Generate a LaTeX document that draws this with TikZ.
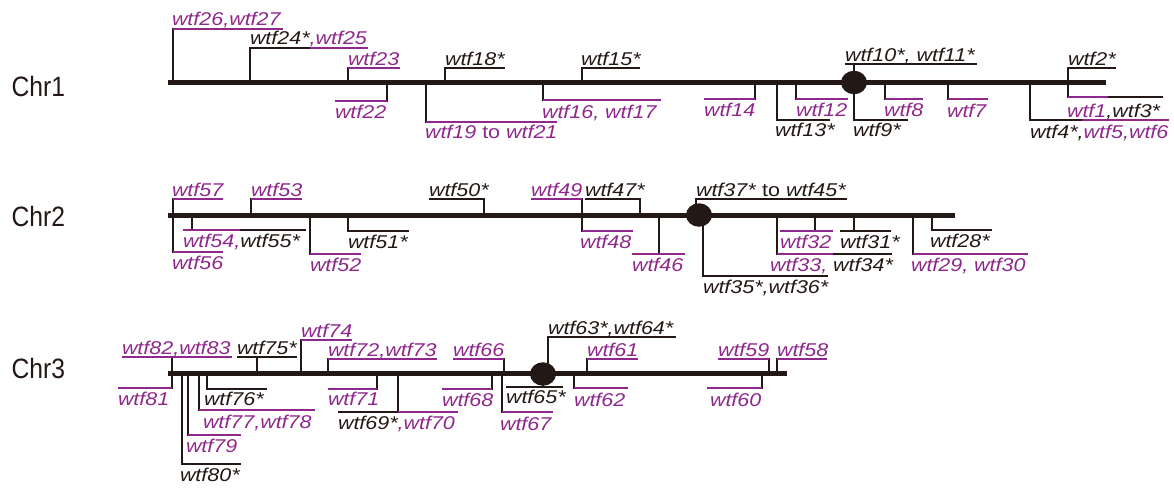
\documentclass[tikz,border=0pt]{standalone}
\usepackage{fontspec}
\setmainfont{Liberation Sans}
\newfontfamily\labfam[FakeStretch=1.16]{Liberation Sans}
\newfontfamily\chrfam[FakeStretch=0.88]{Liberation Sans}
\usetikzlibrary{shapes.geometric}
\definecolor{wpur}{RGB}{142,40,140}
\definecolor{wblk}{RGB}{35,24,21}
\newcommand\Pu[1]{\textcolor{wpur}{#1}}
% name, stem x, chromosome y, leader y, leader x1, leader x2, leader style, text pos, text
\newcommand\wlab[9]{%
  \coordinate (#1a) at (#2,#3);
  \coordinate (#1b) at (#2,#4);
  \draw[stem] (#1a) -- (#1b);
  \draw[#7] (#5,#4) -- (#6,#4);
  \node[lab] (#1) at (#8) {#9};
}
\tikzset{
  stem/.style={line width=1.3pt, draw=wblk, line cap=rect},
  lpur/.style={line width=1.1pt, draw=wpur},
  lblk/.style={line width=1.1pt, draw=wblk},
  lab/.style={inner sep=0pt, outer sep=0pt, anchor=base west, text=wblk,
    font=\labfam\itshape\fontsize{18.5}{20}\selectfont},
  chrlab/.style={inner sep=0pt, anchor=base west, text=wblk,
    font=\chrfam\fontsize{28}{30}\selectfont},
  chrom/.style={line width=5pt, draw=wblk},
  cen/.style={shape=ellipse, fill=wblk, draw=none, inner sep=0pt,
    minimum width=26pt, minimum height=23.5pt}
}
\begin{document}
\begin{tikzpicture}[x=1pt,y=-1pt]
\useasboundingbox (0,0) rectangle (1174,487);
% ---------- Chr1 ----------
\wlab{w26}{173}{82}{29}{173}{283}{lpur}{172,25.8}{\Pu{wtf26,wtf27}}
\wlab{w24}{250}{82}{48}{250}{368}{lpur}{250,45}{wtf24*\Pu{,wtf25}}
\draw[lblk] (250,48) -- (310,48);
\wlab{w23}{348}{82}{68}{348}{400}{lpur}{348,65.5}{\Pu{wtf23}}
\wlab{w18}{445}{82}{68}{445}{505}{lblk}{445,65.5}{wtf18*}
\wlab{w15}{582}{82}{68}{582}{640}{lblk}{581,65.5}{wtf15*}
\wlab{w10}{854}{82}{64}{845}{977}{lblk}{845,61.5}{wtf10*, wtf11*}
\wlab{w2}{1068}{82}{68}{1068}{1116}{lblk}{1068,65.5}{wtf2*}
\wlab{w22}{387}{82}{101}{335}{387}{lpur}{335,118}{\Pu{wtf22}}
\wlab{w19}{426}{82}{122}{426}{557}{lpur}{425,138.5}{\Pu{wtf19 \textup{to} wtf21}}
\wlab{w16}{543}{82}{100}{543}{661}{lpur}{542,118}{\Pu{wtf16, wtf17}}
\wlab{w14}{755}{82}{99}{704}{755}{lpur}{704,116.5}{\Pu{wtf14}}
\wlab{w13}{777}{82}{120}{777}{830}{lblk}{775,136.5}{wtf13*}
\wlab{w12}{796}{82}{99}{796}{848}{lpur}{796,116.5}{\Pu{wtf12}}
\wlab{w9}{854}{82}{120}{854}{908}{lblk}{853,136.5}{wtf9*}
\wlab{w8}{885}{82}{99}{885}{923}{lpur}{884,116.5}{\Pu{wtf8}}
\wlab{w7}{948}{82}{99}{948}{988}{lpur}{947,117}{\Pu{wtf7}}
\wlab{w1}{1068}{82}{97}{1068}{1163}{lblk}{1067,117}{\Pu{wtf1},wtf3*}
\draw[lpur] (1068,97) -- (1108,97);
\wlab{w4}{1030}{82}{120}{1030}{1169}{lpur}{1030,138}{wtf4*,\Pu{wtf5,wtf6}}
\draw[lblk] (1030,120) -- (1082,120);
\coordinate (c1a) at (168,82.5);
\coordinate (c1b) at (1106,82.5);
\draw[chrom] (c1a) -- (c1b);
\node[cen] (cen1) at (854,82.5) {};
\node[chrlab] (chr1) at (11.5,96) {Chr1};
% ---------- Chr2 ----------
\wlab{w57}{173}{215}{199}{173}{223}{lpur}{172,196.5}{\Pu{wtf57}}
\wlab{w53}{251}{215}{199}{251}{302}{lpur}{251,196.5}{\Pu{wtf53}}
\wlab{w50}{484}{215}{199}{429}{484}{lblk}{429,196.5}{wtf50*}
\wlab{w49}{582}{215}{199}{531}{582}{lpur}{531,196.5}{\Pu{wtf49}}
\wlab{w47}{640}{215}{199}{585}{640}{lblk}{585,196.5}{wtf47*}
\wlab{w37}{696}{215}{199}{696}{847}{lblk}{696,196.5}{wtf37* \textup{to} wtf45*}
\wlab{w54}{192}{215}{230}{183}{306}{lblk}{183,247.3}{\Pu{wtf54,}wtf55*}
\draw[lpur] (183,230) -- (240,230);
\wlab{w56}{173}{215}{252}{173}{223}{lpur}{172,269.3}{\Pu{wtf56}}
\wlab{w52}{310}{215}{254}{310}{361}{lpur}{310,271.5}{\Pu{wtf52}}
\wlab{w51}{348}{215}{231}{348}{409}{lblk}{348,248.3}{wtf51*}
\wlab{w48}{582}{215}{231}{582}{633}{lpur}{580,248.3}{\Pu{wtf48}}
\wlab{w46}{659}{215}{254}{632}{685}{lpur}{632,271}{\Pu{wtf46}}
\wlab{w35}{703}{215}{276}{703}{828}{lblk}{703,293.3}{wtf35*,wtf36*}
\wlab{w33}{777}{215}{254}{777}{892}{lblk}{770,271.7}{\Pu{wtf33, }wtf34*}
\draw[lpur] (777,254) -- (833,254);
\wlab{w32}{815}{215}{231}{780}{833}{lpur}{780,248.3}{\Pu{wtf32}}
\wlab{w31}{854}{215}{231}{840}{891}{lblk}{840,248.3}{wtf31*}
\wlab{w29}{913}{215}{254}{913}{1028}{lpur}{911,271}{\Pu{wtf29, wtf30}}
\wlab{w28}{932}{215}{230}{932}{992}{lblk}{930,247.3}{wtf28*}
\coordinate (c2a) at (168,215);
\coordinate (c2b) at (955,215);
\draw[chrom] (c2a) -- (c2b);
\node[cen] (cen2) at (699,215) {};
\node[chrlab] (chr2) at (11.5,226.7) {Chr2};
% ---------- Chr3 ----------
\wlab{w82}{172}{373}{357}{122}{232}{lpur}{122,354.3}{\Pu{wtf82,wtf83}}
\wlab{w75}{257}{373}{357}{237}{297}{lblk}{237,354.3}{wtf75*}
\wlab{w74}{301}{373}{340}{301}{352}{lpur}{301,337.3}{\Pu{wtf74}}
\wlab{w72}{328}{373}{359}{328}{437}{lpur}{328,356}{\Pu{wtf72,wtf73}}
\wlab{w66}{504}{373}{359}{453}{504}{lpur}{453,356}{\Pu{wtf66}}
\wlab{w63}{548}{373}{337}{548}{676}{lblk}{548,334.3}{wtf63*,wtf64*}
\wlab{w61}{587}{373}{359}{587}{638}{lpur}{587,356}{\Pu{wtf61}}
\wlab{w59}{769}{373}{359}{718}{769}{lpur}{718,356}{\Pu{wtf59}}
\wlab{w58}{777}{373}{359}{777}{827}{lpur}{777,356}{\Pu{wtf58}}
\wlab{w81}{172}{373}{388}{118}{172}{lpur}{118,405}{\Pu{wtf81}}
\wlab{w80}{182}{373}{464}{182}{241}{lblk}{180,481.5}{wtf80*}
\wlab{w79}{188}{373}{435}{188}{241}{lpur}{186,452.5}{\Pu{wtf79}}
\wlab{w77}{199}{373}{410}{199}{315}{lpur}{203,428}{\Pu{wtf77,wtf78}}
\wlab{w76}{207}{373}{389}{207}{267}{lblk}{204,405}{wtf76*}
\wlab{w71}{377}{373}{389}{328}{377}{lpur}{328,405.5}{\Pu{wtf71}}
\wlab{w69}{398}{373}{412}{338}{458}{lpur}{338,429.5}{wtf69*\Pu{,wtf70}}
\draw[lblk] (338,412) -- (398,412);
\wlab{w68}{492}{373}{389}{442}{492}{lpur}{442,406}{\Pu{wtf68}}
\wlab{w67}{502}{373}{412}{502}{553}{lpur}{500,430}{\Pu{wtf67}}
\wlab{w65}{543}{373}{387}{506}{563}{lblk}{506,403.3}{wtf65*}
\wlab{w62}{574}{373}{388}{574}{628}{lpur}{574,406}{\Pu{wtf62}}
\wlab{w60}{762}{373}{388}{707}{762}{lpur}{710,406}{\Pu{wtf60}}
\coordinate (c3a) at (168,373);
\coordinate (c3b) at (787,373);
\draw[chrom] (c3a) -- (c3b);
\node[cen] (cen3) at (543,374) {};
\node[chrlab] (chr3) at (11.5,378.3) {Chr3};
\end{tikzpicture}
\end{document}
